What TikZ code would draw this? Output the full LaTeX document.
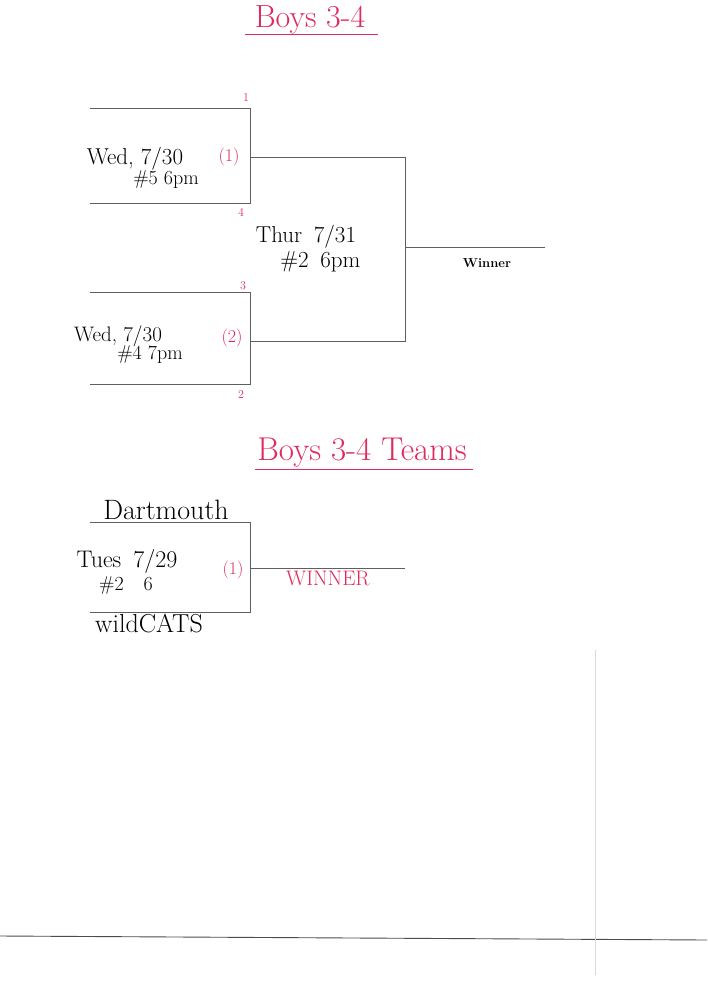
\documentclass[tikz,border=0pt]{standalone}
\usepackage{xcolor}
\usepackage{tikz}
\usetikzlibrary{positioning}
\definecolor{pen}{RGB}{222,42,92}
\definecolor{scan}{RGB}{95,95,95}

\begin{document}
\begin{tikzpicture}[
  x=1pt, y=-1pt,
  line/.style={draw=scan, line width=0.7pt},
  hand/.style={font=\fontsize{23}{25}\selectfont, inner sep=1pt},
  note/.style={font=\fontsize{20}{22}\selectfont, inner sep=1pt},
  title/.style={font=\fontsize{32}{34}\selectfont, text=pen, inner sep=1pt},
  seed/.style={font=\fontsize{18}{20}\selectfont, text=pen, inner sep=1pt},
  slot/.style={font=\fontsize{12}{13}\selectfont, text=pen, inner sep=0pt},
  uline/.style={draw=pen, line width=0.9pt},
]
\useasboundingbox (0,0) rectangle (707,1000);

% ---- title
\node[title] (title) at (310,20) {Boys 3-4};
\coordinate (tl) at (245,34);
\coordinate (tr) at (378,34);
\draw[uline] (tl) -- (tr);

% ---- first round, game 1
\coordinate (a1) at (90,108);
\coordinate (a2) at (250,108);
\coordinate (a3) at (250,203);
\coordinate (a4) at (90,203);
\coordinate (am) at (250,157);
\draw[line] (a1) -- (a2) -- (a3) -- (a4);
\node[slot] (s1) at (246,98)  {1};
\node[slot] (s4) at (241,212) {4};
\node[seed] (g1) at (229,157) {(1)};
\node[hand] (d1) at (135,159) {Wed, 7/30};
\node[note] (t1) at (166,180) {\#5 6pm};

% ---- first round, game 2
\coordinate (b1) at (90,292);
\coordinate (b2) at (250,292);
\coordinate (b3) at (250,384);
\coordinate (b4) at (90,384);
\coordinate (bm) at (250,341);
\draw[line] (b1) -- (b2) -- (b3) -- (b4);
\node[slot] (s3) at (243,286) {3};
\node[slot] (s2) at (241,395) {2};
\node[seed] (g2) at (232,338) {(2)};
\node[hand, font=\fontsize{21}{23}\selectfont] (d2) at (118,336) {Wed, 7/30};
\node[note] (t2) at (150,355) {\#4 7pm};

% ---- final
\coordinate (fa) at (405,157);
\coordinate (fb) at (405,341);
\coordinate (fm) at (405,247);
\coordinate (win) at (545,247);
\draw[line] (am) -- (fa) -- (fb) -- (bm);
\draw[line] (fm) -- (win);
\node[hand] (d3) at (306,237) {Thur\enspace 7/31};
\node[hand, below right=1pt and -78pt of d3] (t3) {\#2\enspace 6pm};
\node[font=\fontsize{13}{14}\selectfont\bfseries, inner sep=1pt] (wlbl) at (487,263) {Winner};

% ---- teams
\node[title, font=\fontsize{33}{35}\selectfont] (title2) at (362,453) {Boys 3-4 Teams};
\coordinate (ul) at (255,469);
\coordinate (ur) at (473,469);
\draw[uline] (ul) -- (ur);

\coordinate (c1) at (90,522);
\coordinate (c2) at (250,522);
\coordinate (c3) at (250,612);
\coordinate (c4) at (90,612);
\coordinate (cm) at (250,568);
\coordinate (cw) at (405,568);
\draw[line] (c1) -- (c2) -- (c3) -- (c4);
\draw[line] (cm) -- (cw);
\node[hand, font=\fontsize{28}{30}\selectfont] (team1) at (166,510) {Dartmouth};
\node[hand, font=\fontsize{26}{28}\selectfont] (team2) at (149,624) {wildCATS};
\node[hand, font=\fontsize{24}{26}\selectfont] (d4) at (127,561) {Tues\enspace 7/29};
\node[note] (t4) at (126,586) {\#2\quad 6};
\node[seed] (g3) at (233,570) {(1)};
\node[font=\fontsize{21}{23}\selectfont, text=pen, inner sep=1pt] (wred) at (328,578) {WINNER};

% ---- scan edges
\coordinate (e1) at (0,936);
\coordinate (e2) at (707,940);
\draw[draw=black!70, line width=0.9pt] (e1) -- (e2);
\coordinate (v1) at (595,650);
\coordinate (v2) at (595,975);
\draw[draw=black!15, line width=0.5pt] (v1) -- (v2);
\end{tikzpicture}
\end{document}
